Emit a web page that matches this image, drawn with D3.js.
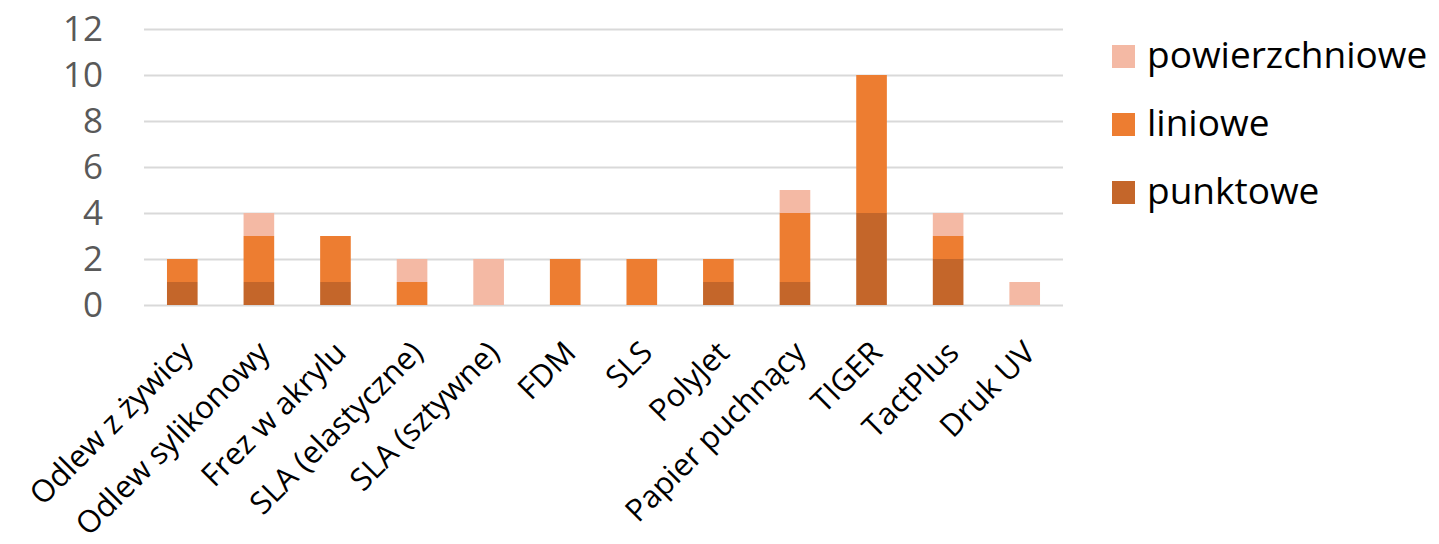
<!DOCTYPE html>
<html>
<head>
<meta charset="utf-8">
<script src="https://cdn.jsdelivr.net/npm/d3@7"></script>
<style>
  body { margin: 0; background: #fff; }
  svg { display: block; font-family: "Open Sans", sans-serif; }
</style>
</head>
<body>
<svg id="chart"></svg>
<script>
// categories and series (stack order bottom -> top)
const categories = ['Odlew z żywicy', 'Odlew sylikonowy', 'Frez w akrylu', 'SLA (elastyczne)',
  'SLA (sztywne)', 'FDM', 'SLS', 'PolyJet', 'Papier puchnący', 'TIGER', 'TactPlus', 'Druk UV'];
const punktowe = [1, 1, 1, 0, 0, 0, 0, 1, 1, 4, 2, 0];
const liniowe = [1, 2, 2, 1, 0, 2, 2, 1, 3, 6, 1, 0];
const powierzchniowe = [0, 1, 0, 1, 2, 0, 0, 0, 1, 0, 1, 1];
const seriesNames = ['punktowe', 'liniowe', 'powierzchniowe'];
const yTicks = [0, 2, 4, 6, 8, 10, 12];

const W = 1439, H = 544;
const margin = { top: 29, left: 144, right: 376, bottom: 239 };
const width = W - margin.left - margin.right;
const height = H - margin.top - margin.bottom;

const svg = d3.select('#chart').attr('width', W).attr('height', H);
const g = svg.append('g').attr('transform', `translate(${margin.left},${margin.top})`);

const rows = categories.map((c, i) => ({
  cat: c, punktowe: punktowe[i], liniowe: liniowe[i], powierzchniowe: powierzchniowe[i]
}));

const x = d3.scaleBand().domain(categories).range([0, width])
  .paddingInner(0.6).paddingOuter(0.3);
const y = d3.scaleLinear().domain([0, 12]).range([height, 0]);

const color = d3.scaleOrdinal().domain(seriesNames)
  .range(['#c4662a', '#ed7d31', '#f4b9a4']);

// gridlines
g.append('g')
  .call(d3.axisLeft(y).tickValues(yTicks).tickSize(-width).tickFormat(''))
  .call(s => s.select('.domain').remove())
  .call(s => s.selectAll('line').attr('stroke', '#d9d9d9').attr('stroke-width', 2));

// y labels
g.append('g')
  .call(d3.axisLeft(y).tickValues(yTicks).tickSize(0).tickPadding(41))
  .call(s => s.select('.domain').remove())
  .call(s => s.selectAll('text').attr('fill', '#595959')
    .style('font-size', '35px').attr('font-family', '"Open Sans", sans-serif'));

// bars
const stacked = d3.stack().keys(seriesNames)(rows);
g.append('g').selectAll('g').data(stacked).join('g')
  .attr('fill', d => color(d.key))
  .selectAll('rect').data(d => d).join('rect')
  .attr('x', d => x(d.data.cat))
  .attr('width', x.bandwidth())
  .attr('y', d => y(d[1]))
  .attr('height', d => y(d[0]) - y(d[1]));

// x labels
g.append('g').selectAll('text').data(categories).join('text')
  .attr('transform', d => `translate(${x(d) + x.bandwidth() / 2 - 3},${height + 34}) rotate(-45)`)
  .attr('dy', '0.71em')
  .attr('text-anchor', 'end')
  .attr('fill', '#000')
  .style('font-size', '31px')
  .text(d => d);

// legend (reverse order)
const legend = svg.append('g').attr('transform', 'translate(1112,0)');
seriesNames.slice().reverse().forEach((k, i) => {
  const row = legend.append('g').attr('transform', `translate(0,${56 + i * 68})`);
  row.append('rect').attr('x', 0).attr('y', -11).attr('width', 23).attr('height', 23)
    .attr('fill', color(k));
  row.append('text').attr('x', 35).attr('y', 0).attr('dy', '0.33em')
    .attr('fill', '#000').style('font-size', '37px').text(k);
});
</script>
</body>
</html>
